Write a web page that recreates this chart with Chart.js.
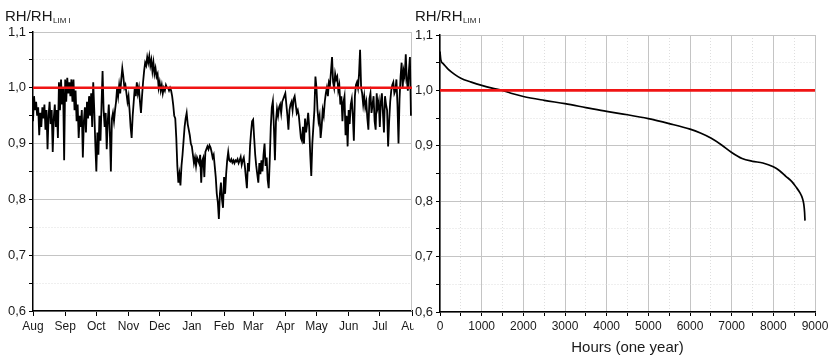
<!DOCTYPE html>
<html>
<head>
<meta charset="utf-8">
<script src="https://cdn.jsdelivr.net/npm/chart.js@4.4.1/dist/chart.umd.min.js"></script>
<style>
  html, body { margin: 0; padding: 0; background: #fff; }
  #wrap { position: relative; width: 832px; height: 358px; overflow: hidden; }
  #cA { position: absolute; left: 0; top: 0; }
  #cB { position: absolute; left: 414px; top: 0; background: #fff; }
</style>
</head>
<body>
<div id="wrap">
  <canvas id="cA" width="832" height="358"></canvas>
  <canvas id="cB" width="418" height="358"></canvas>
</div>
<script>
// ---- data -------------------------------------------------------------
// Daily RH/RH_LIM I ratio, one array per month (August to July)
const aug = [0.94,0.985,0.96,0.975,0.95,0.965,0.915,0.955,0.93,0.965,0.945,0.97,0.925,0.96,0.89,0.95,0.975,0.935,0.96,0.885,0.945,0.97,0.93,0.96,0.91,1.01,0.96,1.015,0.97,1.0,0.87];
const sep = [1.015,0.975,1.018,0.99,1.01,0.985,1.015,0.975,1.015,0.96,0.995,0.94,0.97,0.91,0.95,0.93,0.96,0.875,0.94,0.965,0.92,0.975,0.945,0.985,0.95,0.99,0.93,1.01,0.96,0.9];
const oct = [0.85,0.92,0.88,0.95,0.905,0.97,1.03,0.96,0.93,0.955,0.89,0.94,0.97,0.92,0.85,0.945,0.955,0.94,0.96,0.975,1.0,0.985,1.005,0.99,1.015,1.035,1.02,1.0,1.005,0.99,0.975];
const nov = [0.985,0.96,0.93,0.91,0.95,0.975,1.0,0.985,1.01,0.99,1.0,0.975,0.955,0.985,1.01,1.03,1.045,1.04,1.055,1.045,1.057,1.04,1.05,1.03,1.045,1.025,1.035,1.02,1.025,1.0];
const dec = [1.01,0.995,1.005,0.99,1.0,0.995,1.005,1.0,1.0,0.995,1.0,0.995,0.985,0.97,0.95,0.945,0.91,0.86,0.83,0.845,0.825,0.86,0.88,0.905,0.93,0.945,0.955,0.935,0.925,0.915,0.9];
const jan = [0.895,0.88,0.865,0.875,0.86,0.875,0.87,0.865,0.88,0.83,0.87,0.875,0.84,0.885,0.89,0.895,0.89,0.897,0.893,0.885,0.875,0.88,0.86,0.84,0.81,0.795,0.765,0.81,0.83,0.8,0.785];
const feb = [0.84,0.81,0.845,0.87,0.885,0.87,0.868,0.872,0.866,0.87,0.865,0.87,0.868,0.872,0.865,0.87,0.876,0.862,0.87,0.875,0.86,0.84,0.82,0.865,0.85,0.895,0.92,0.94];
const mar = [0.943,0.91,0.88,0.86,0.845,0.83,0.865,0.845,0.87,0.85,0.88,0.9,0.86,0.875,0.835,0.82,0.87,0.93,0.965,0.976,0.93,0.87,0.94,0.962,0.95,0.965,0.97,0.955,0.975,0.98,0.985];
const apr = [0.99,0.97,0.95,0.925,0.96,0.97,0.975,0.96,0.98,0.985,0.97,0.955,0.96,0.95,0.93,0.91,0.905,0.93,0.9,0.945,0.92,0.935,0.955,0.93,0.88,0.842,0.9,0.93,0.96,1.02];
const may = [1.0,0.96,0.94,0.95,0.91,0.93,0.96,0.95,0.975,0.99,1.0,0.985,1.01,1.005,1.03,1.055,1.01,1.0,1.025,1.015,1.02,0.995,1.005,0.97,0.985,0.94,0.975,0.985,0.915,0.95,0.895];
const jun = [0.96,0.935,0.97,0.98,0.95,0.905,0.985,1.005,1.01,1.0,1.025,1.068,1.0,0.99,0.97,0.985,0.965,0.975,0.945,0.925,0.98,0.99,0.955,0.97,0.985,0.94,0.925,0.99,0.965,0.975];
const jul = [0.93,0.975,0.99,0.955,0.92,0.985,0.97,0.96,0.895,0.94,0.975,0.995,1.005,1.01,0.99,0.995,1.015,0.97,0.9,0.98,1.02,1.045,1.0,1.03,1.02,1.06,1.015,0.995,1.03,1.055,0.95];

const monthSeries = [aug, sep, oct, nov, dec, jan, feb, mar, apr, may, jun, jul];
const monthLabels = ['Aug','Sep','Oct','Nov','Dec','Jan','Feb','Mar','Apr','May','Jun','Jul','Aug'];
const monthStartDays = [0,31,61,92,122,153,184,212,243,273,304,334,365];

// Duration curve: hours of the year vs. ratio, sorted high to low
const durationHours = [0,20,80,200,350,500,750,1000,1250,1500,1750,2000,2500,3000,3500,4000,4500,5000,5500,6000,6250,6500,6750,7000,7250,7500,7750,8000,8150,8300,8450,8550,8640,8700,8730,8750,8760];
const durationRatio = [1.07,1.055,1.048,1.038,1.029,1.022,1.015,1.009,1.004,1.0,0.994,0.989,0.982,0.976,0.969,0.962,0.956,0.949,0.94,0.93,0.923,0.914,0.902,0.888,0.877,0.872,0.869,0.862,0.855,0.845,0.835,0.825,0.815,0.805,0.795,0.78,0.765];

const limitValue = 1.0;
const hourTicksMax = 9000;
const yTitleMain = 'RH/RH';
const yTitleSub = 'LIM I';
const xTitleRight = 'Hours (one year)';

// ---- shared styling ---------------------------------------------------
const FONT = '"Liberation Sans", Arial, sans-serif';
const TEXT = '#1a1a1a';
const GRID_MAJOR = '#c4c4c4';
const GRID_MINOR = '#dedede';
const isMajor = (v, unit) => Math.abs(Math.round(v / unit * 2)) % 2 === 0;

Chart.defaults.font.family = FONT;
Chart.defaults.color = TEXT;

function yScale(width) {
  return {
    type: 'linear', min: 0.6, max: 1.1,
    afterBuildTicks(s) {
      const t = [];
      for (let k = 0; k <= 10; k++) t.push({ value: Math.round((0.6 + k * 0.05) * 100) / 100 });
      s.ticks = t;
    },
    afterFit(s) { s.width = width; s.paddingTop = 0; s.paddingBottom = 0; },
    ticks: {
      font: { size: 13 }, color: TEXT, padding: 3,
      callback: v => isMajor(v, 0.1) ? v.toFixed(1).replace('.', ',') : ''
    },
    grid: {
      color: c => (c.tick && !isMajor(c.tick.value, 0.1)) ? GRID_MINOR : GRID_MAJOR,
      tickColor: '#000', tickLength: 4, lineWidth: 1
    },
    border: {
      color: '#000', width: 1.5,
      dash: c => (c.tick && !isMajor(c.tick.value, 0.1)) ? [1, 2] : []
    }
  };
}

function titlePlugin(x) {
  return {
    id: 'yTitle',
    afterDraw(chart) {
      const ctx = chart.ctx;
      ctx.save();
      ctx.fillStyle = TEXT;
      ctx.textBaseline = 'alphabetic';
      ctx.textAlign = 'left';
      ctx.font = '15px ' + FONT;
      ctx.fillText(yTitleMain, x, 21);
      const w = ctx.measureText(yTitleMain).width;
      ctx.font = '8px ' + FONT;
      ctx.fillText(yTitleSub, x + w + 0.5, 23);
      ctx.restore();
    }
  };
}

const rightFrame = {
  id: 'rightFrame',
  beforeDatasetsDraw(chart) {
    const { ctx, chartArea: a } = chart;
    ctx.save();
    ctx.strokeStyle = GRID_MAJOR;
    ctx.lineWidth = 1;
    ctx.beginPath();
    ctx.moveTo(a.right - 0.5, a.top);
    ctx.lineTo(a.right - 0.5, a.bottom);
    ctx.stroke();
    ctx.restore();
  }
};

// ---- left: seasonal time series --------------------------------------
const dailyPoints = [];
monthSeries.forEach((vals, m) => {
  vals.forEach((v, i) => dailyPoints.push({ x: monthStartDays[m] + i, y: v }));
});

new Chart(document.getElementById('cA'), {
  type: 'line',
  data: {
    datasets: [
      { data: [{ x: 0, y: limitValue }, { x: 365, y: limitValue }], borderColor: '#f01414', borderWidth: 2.6, pointRadius: 0 },
      { data: dailyPoints, borderColor: '#000', borderWidth: 1.8, pointRadius: 0, tension: 0 }
    ]
  },
  options: {
    responsive: false, animation: false, devicePixelRatio: 1,
    layout: { padding: { top: 32, right: 420, left: 0, bottom: 0 } },
    plugins: { legend: { display: false }, tooltip: { enabled: false } },
    scales: {
      x: {
        type: 'linear', min: 0, max: 365,
        afterBuildTicks(s) { s.ticks = monthStartDays.map(v => ({ value: v })); },
        afterFit(s) { s.height = 47; s.paddingLeft = 0; s.paddingRight = 0; },
        ticks: { autoSkip: false, maxRotation: 0, padding: 3, font: { size: 12 }, color: TEXT,
                 callback: (v, i) => monthLabels[i] },
        grid: { drawOnChartArea: false, tickColor: '#000', tickLength: 5 },
        border: { color: '#000', width: 1.5 }
      },
      y: yScale(33)
    }
  },
  plugins: [titlePlugin(5), rightFrame]
});

// ---- right: duration curve -------------------------------------------
new Chart(document.getElementById('cB'), {
  type: 'line',
  data: {
    datasets: [
      { data: [{ x: 0, y: limitValue }, { x: hourTicksMax, y: limitValue }], borderColor: '#f01414', borderWidth: 2.6, pointRadius: 0 },
      { data: durationHours.map((h, i) => ({ x: h, y: durationRatio[i] })), borderColor: '#000', borderWidth: 1.7,
        pointRadius: 0, cubicInterpolationMode: 'monotone' }
    ]
  },
  options: {
    responsive: false, animation: false, devicePixelRatio: 1,
    layout: { padding: { top: 35, right: 17, left: 0, bottom: 0 } },
    plugins: { legend: { display: false }, tooltip: { enabled: false } },
    scales: {
      x: {
        type: 'linear', min: 0, max: hourTicksMax,
        afterBuildTicks(s) {
          const t = [];
          for (let v = 0; v <= hourTicksMax; v += 500) t.push({ value: v });
          s.ticks = t;
        },
        afterFit(s) { s.height = 46; s.paddingLeft = 0; s.paddingRight = 0; },
        ticks: { autoSkip: false, maxRotation: 0, padding: 3, font: { size: 12 }, color: TEXT,
                 callback: v => (v % 1000 === 0 ? String(v) : '') },
        grid: {
          color: c => (c.tick && c.tick.value % 1000 !== 0) ? GRID_MINOR : GRID_MAJOR,
          tickColor: '#000', tickLength: 4
        },
        border: { color: '#000', width: 1.5,
                  dash: c => (c.tick && c.tick.value % 1000 !== 0) ? [1, 2] : [] },
        title: { display: true, text: xTitleRight, font: { size: 15 }, color: TEXT, padding: { top: 2, bottom: 1 } }
      },
      y: yScale(26)
    }
  },
  plugins: [titlePlugin(1)]
});
</script>
</body>
</html>
